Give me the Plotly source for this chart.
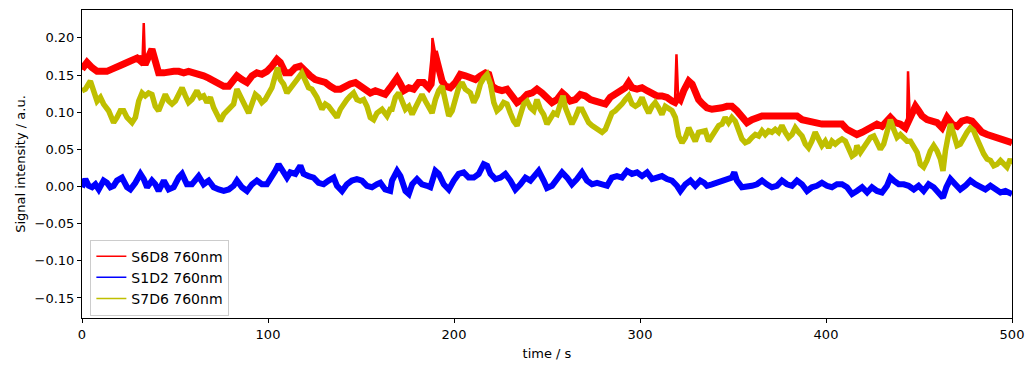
import plotly.graph_objects as go

# ---- data ----
t_s6d8 = [0, 2.7, 5.4, 8.1, 10.8, 13.4, 16.1, 18.8, 21.5, 24.2, 26.9, 29.6, 31.4, 32.6, 33.9, 35.8, 37.6, 39.4, 41.2,
          44.0, 46.6, 49.3, 52.0, 54.7, 57.3, 60.0, 62.7, 65.4, 68.1, 70.8, 73.5, 76.2, 78.9, 81.5, 83.3, 86.0, 88.7, 91.4, 94.0,
          96.7, 99.4, 102.1, 104.8, 106.6, 109.3, 112.0, 114.7, 117.4, 120.0, 122.7, 125.4, 128.1, 130.8, 133.5, 136.2, 138.9,
          141.5, 144.2, 147.0, 149.6, 152.3, 155.0, 157.7, 160.4, 163.0, 165.7, 169.4, 171.2, 173.0, 175.7, 178.3, 181.0,
          183.7, 186.4, 187.7, 189.5, 190.4, 191.8, 193.6, 195.4, 198.0, 200.8, 203.4, 206.1, 208.8, 211.5, 214.2,
          216.9, 218.7, 220.5, 223.1, 225.8, 228.5, 231.2, 233.9, 236.6, 239.3, 242.0, 244.6, 247.3, 250.0, 252.7, 255.4,
          258.1, 259.9, 262.5, 265.2, 267.9, 270.6, 273.3, 276.0, 278.7, 281.4, 284.0, 286.7, 289.4, 292.1, 293.9, 295.7,
          298.4, 301.1, 303.8, 306.5, 309.1, 311.8, 314.5, 317.2, 318.8, 320.5, 321.7, 323.5, 326.2, 328.0, 329.7,
          331.5, 333.3, 336.0, 338.7, 341.4, 344.1, 346.7, 349.4, 352.1, 354.8, 357.5, 360.2, 362.9, 365.6, 368.2, 370.9,
          373.6, 376.3, 379.0, 381.7, 384.4, 387.1, 389.8, 392.4, 395.1, 397.8, 400.5, 403.2, 405.9, 408.6, 411.3, 414.0,
          416.6, 419.4, 422.1, 424.7, 427.4, 430.1, 432.8, 434.6, 437.3, 440.0, 442.7, 443.6, 445.0, 446.3, 448.1,
          449.8, 451.6, 454.3, 457.0, 459.7, 462.4, 465.1, 467.8, 470.5, 473.1, 475.8, 478.5, 481.2, 483.9, 486.6, 489.3,
          492.0, 494.6, 497.3, 500.0]
v_s6d8 = [0.158, 0.167, 0.160, 0.155, 0.155, 0.155, 0.158, 0.160, 0.164, 0.167, 0.169, 0.173, 0.169, 0.175, 0.164, 0.178, 0.185, 0.169, 0.153,
          0.153, 0.155, 0.155, 0.155, 0.153, 0.155, 0.153, 0.153, 0.149, 0.146, 0.142, 0.138, 0.135, 0.135, 0.144, 0.149, 0.144, 0.140, 0.149, 0.153,
          0.151, 0.155, 0.162, 0.171, 0.167, 0.153, 0.153, 0.160, 0.162, 0.155, 0.149, 0.144, 0.142, 0.140, 0.135, 0.131, 0.131,
          0.135, 0.138, 0.140, 0.135, 0.131, 0.126, 0.129, 0.126, 0.124, 0.133, 0.146, 0.138, 0.129, 0.133, 0.131, 0.140,
          0.140, 0.133, 0.138, 0.182, 0.172, 0.155, 0.142, 0.135, 0.133, 0.140, 0.151, 0.149, 0.146, 0.144, 0.149,
          0.153, 0.151, 0.135, 0.131, 0.129, 0.131, 0.122, 0.113, 0.117, 0.124, 0.126, 0.131, 0.126, 0.118, 0.113, 0.117,
          0.126, 0.122, 0.115, 0.117, 0.124, 0.122, 0.117, 0.115, 0.113, 0.111, 0.120, 0.124, 0.129, 0.133, 0.140, 0.133,
          0.131, 0.133, 0.129, 0.124, 0.122, 0.122, 0.120, 0.115, 0.113, 0.120, 0.117, 0.129, 0.142, 0.138, 0.126,
          0.117, 0.112, 0.106, 0.104, 0.104, 0.106, 0.108, 0.108, 0.102, 0.093, 0.086, 0.090, 0.093, 0.095, 0.095, 0.095,
          0.097, 0.097, 0.097, 0.097, 0.095, 0.090, 0.088, 0.086, 0.084, 0.084, 0.084, 0.084, 0.086, 0.084, 0.077, 0.073,
          0.070, 0.073, 0.077, 0.081, 0.084, 0.081, 0.088, 0.093, 0.086, 0.084, 0.079, 0.084, 0.093, 0.099, 0.108,
          0.102, 0.095, 0.090, 0.088, 0.086, 0.079, 0.093, 0.084, 0.081, 0.088, 0.090, 0.088, 0.079, 0.073, 0.070, 0.068,
          0.066, 0.064, 0.061, 0.059]
# narrow artefact spikes in S6D8
spike_t_s6d8 = [33.2, 188.4, 319.6, 444.1]
spike_v_s6d8 = [0.220, 0.200, 0.178, 0.155]

t_s1d2 = [0, 1.8, 3.6, 5.4, 7.2, 9.0, 11.6, 13.4, 15.2, 17.0, 18.8, 21.5, 24.2, 26.0, 28.7, 31.4, 33.2, 35.0, 37.6, 39.4,
          41.2, 44.0, 46.6, 49.3, 52.0, 53.8, 56.4, 59.1, 62.7, 65.4, 68.1, 70.8, 73.5, 76.2, 78.9, 81.5, 83.3, 86.0, 88.7,
          91.4, 94.0, 96.7, 99.4, 102.1, 103.9, 105.7, 107.5, 110.2, 112.0, 114.7, 117.4, 119.1, 121.8, 124.5, 127.2, 129.9,
          132.6, 135.3, 137.1, 139.8, 142.4, 145.1, 147.8, 150.5, 153.2, 155.9, 158.6, 160.4, 163.0, 165.7, 166.7, 169.4,
          171.2, 173.9, 175.7, 177.5, 180.1, 182.8, 185.5, 187.3, 190.0, 191.8, 194.5, 197.2, 199.9, 202.5, 205.2, 207.9,
          210.6, 213.3, 216.0, 217.8, 219.6, 222.3, 225.0, 227.6, 230.3, 233.0, 235.7, 238.4, 241.1, 243.8, 245.5, 248.2,
          250.0, 252.7, 255.4, 258.1, 260.8, 263.4, 266.1, 268.8, 271.5, 274.2, 276.9, 279.6, 282.3, 284.9, 287.6, 290.3,
          293.0, 295.7, 298.4, 301.1, 303.8, 306.5, 309.1, 311.8, 314.5, 317.2, 319.9, 321.7, 324.4, 327.1, 329.7, 332.4,
          334.5, 336.0, 338.7, 341.4, 344.1, 346.7, 349.4, 350.7, 352.1, 354.8, 357.5, 360.2, 362.9, 365.6, 368.2, 370.9,
          373.6, 376.3, 379.0, 381.7, 384.4, 387.1, 389.8, 392.4, 395.1, 397.8, 400.5, 403.2, 405.9, 408.6, 411.3, 414.0,
          416.6, 419.4, 422.1, 424.7, 427.4, 430.1, 432.8, 434.6, 436.4, 439.1, 441.8, 444.4, 447.2, 449.8, 452.5, 455.2,
          457.9, 460.6, 462.9, 464.7, 466.9, 469.5, 472.2, 474.9, 477.6, 480.3, 483.0, 485.7, 488.4, 491.1, 493.8, 496.5,
          500.0]
v_s1d2 = [-0.001, 0.010, 0.001, -0.001, 0.003, -0.004, 0.008, 0.005, -0.001, 0.001, 0.008, 0.012, -0.001, -0.004, 0.005, 0.017, 0.010, -0.001, 0.008, 0.003,
          -0.006, 0.008, -0.004, -0.001, 0.012, 0.017, 0.003, 0.003, 0.014, 0.003, 0.008, -0.001, -0.004, -0.006, -0.004, 0.001, 0.008, -0.001, -0.006,
          0.003, 0.008, 0.003, 0.003, 0.012, 0.021, 0.030, 0.021, 0.012, 0.019, 0.017, 0.028, 0.017, 0.014, 0.012, 0.005, 0.003,
          0.008, 0.012, 0.001, -0.006, 0.003, 0.008, 0.010, 0.008, 0.001, -0.001, 0.003, 0.005, -0.004, -0.006, 0.008, 0.021,
          0.014, -0.006, -0.010, 0.003, 0.010, 0.003, 0.001, -0.001, 0.021, 0.017, 0.003, -0.004, 0.008, 0.017, 0.019, 0.012,
          0.012, 0.017, 0.030, 0.028, 0.017, 0.010, 0.012, 0.017, 0.008, -0.004, 0.003, 0.012, 0.008, 0.017, 0.021, 0.008,
          -0.002, 0.001, 0.010, 0.019, 0.012, 0.003, 0.010, 0.019, 0.008, 0.003, 0.005, 0.003, 0.001, 0.012, 0.014, 0.012,
          0.021, 0.017, 0.019, 0.014, 0.019, 0.010, 0.012, 0.014, 0.010, 0.008, 0.001, -0.006, 0.003, 0.008, 0.001, 0.008,
          0.005, 0.001, 0.003, 0.005, 0.008, 0.008, 0.012, 0.019, 0.008, -0.001, -0.001, 0.001, 0.003, 0.008, 0.003, -0.001,
          0.001, 0.008, 0.003, 0.001, 0.008, 0.003, -0.006, -0.001, 0.001, 0.005, 0.001, -0.001, 0.003, 0.003, -0.001, -0.010,
          -0.006, -0.001, -0.008, -0.001, -0.006, -0.008, 0.001, 0.012, 0.008, 0.003, 0.003, 0.001, -0.004, 0.001, -0.006, 0.003,
          -0.001, -0.008, -0.015, -0.001, 0.010, 0.003, -0.004, 0.001, 0.008, 0.003, -0.001, -0.004, 0.001, -0.004, -0.008, -0.006,
          -0.010]

t_s7d6 = [0, 1.8, 4.5, 6.3, 8.1, 9.9, 11.6, 14.3, 17.0, 18.8, 20.6, 22.4, 24.2, 26.9, 28.7, 30.5, 32.3, 34.0, 35.8, 37.6,
          39.4, 41.2, 43.0, 44.8, 46.6, 48.4, 50.2, 52.0, 53.8, 55.6, 57.3, 59.1, 61.8, 63.6, 65.4, 67.2, 69.0, 70.8, 72.6,
          74.4, 76.2, 78.9, 81.5, 83.3, 85.1, 87.8, 89.6, 91.4, 93.2, 95.0, 96.7, 98.5, 100.3, 102.1, 103.9, 105.2, 106.6,
          108.4, 110.2, 112.0, 113.8, 115.6, 118.2, 120.0, 121.8, 123.6, 126.3, 129.0, 130.8, 132.6, 135.3, 137.1, 138.9,
          140.6, 142.4, 144.2, 146.0, 147.8, 149.6, 151.4, 153.2, 155.0, 156.8, 158.6, 161.3, 164.0, 165.7, 166.7, 168.5,
          170.3, 172.1, 173.9, 175.7, 177.5, 179.2, 181.0, 182.8, 184.6, 186.4, 188.2, 190.0, 191.8, 193.6, 195.4, 197.2,
          199.0, 200.8, 202.5, 204.3, 206.1, 208.8, 210.6, 212.4, 214.2, 216.0, 217.8, 219.6, 221.4, 223.1, 224.9, 226.7,
          228.5, 230.3, 232.1, 233.9, 235.7, 237.5, 239.3, 241.1, 242.9, 244.6, 246.4, 248.2, 250.0, 251.8, 253.6, 255.4,
          257.2, 258.6, 259.9, 261.6, 263.4, 265.2, 267.0, 268.8, 270.6, 272.4, 274.2, 276.0, 277.8, 279.6, 281.4, 283.2,
          284.9, 286.7, 288.5, 290.3, 292.1, 293.9, 295.7, 297.5, 299.3, 301.1, 302.9, 304.7, 306.5, 308.2, 310.0, 311.8,
          313.6, 315.4, 317.2, 319.0, 320.8, 322.6, 324.4, 326.2, 328.0, 329.7, 331.5, 333.3, 335.1, 336.9, 338.7, 340.5,
          342.3, 344.1, 345.8, 347.6, 349.4, 351.2, 353.0, 354.8, 356.6, 358.4, 360.2, 362.0, 363.8, 365.6, 367.3, 369.1,
          370.9, 372.7, 374.5, 376.3, 378.1, 379.9, 381.7, 383.5, 385.3, 387.1, 388.9, 390.6, 392.4, 394.2, 396.0, 397.8,
          399.6, 401.4, 403.2, 405.0, 406.8, 408.6, 410.4, 412.2, 414.0, 415.7, 416.6, 418.5, 420.3, 422.1, 423.9, 425.7,
          427.5, 429.2, 431.0, 432.8, 434.6, 436.4, 438.2, 440.0, 441.8, 443.6, 445.4, 447.2, 449.0, 450.7, 452.5, 454.3,
          456.1, 457.9, 459.7, 461.5, 462.9, 464.2, 466.0, 466.9, 468.7, 470.5, 472.2, 474.0, 475.8, 477.6, 479.4, 481.2,
          483.0, 484.8, 486.6, 488.4, 490.2, 492.0, 493.8, 495.5, 497.3, 499.1, 500.0]
v_s7d6 = [0.129, 0.131, 0.142, 0.129, 0.115, 0.120, 0.111, 0.102, 0.086, 0.093, 0.102, 0.102, 0.093, 0.086, 0.093, 0.115, 0.126, 0.122, 0.126, 0.124,
          0.108, 0.102, 0.113, 0.124, 0.115, 0.111, 0.115, 0.126, 0.133, 0.122, 0.113, 0.117, 0.129, 0.120, 0.122, 0.113, 0.120, 0.106, 0.097,
          0.088, 0.097, 0.104, 0.111, 0.131, 0.120, 0.108, 0.099, 0.113, 0.124, 0.120, 0.113, 0.117, 0.124, 0.133, 0.149, 0.160, 0.144,
          0.138, 0.126, 0.133, 0.140, 0.144, 0.153, 0.142, 0.133, 0.131, 0.120, 0.104, 0.111, 0.108, 0.099, 0.093, 0.104,
          0.111, 0.117, 0.122, 0.126, 0.117, 0.115, 0.117, 0.108, 0.093, 0.090, 0.099, 0.104, 0.095, 0.104, 0.104, 0.120,
          0.126, 0.115, 0.104, 0.108, 0.097, 0.106, 0.117, 0.124, 0.115, 0.108, 0.099, 0.117, 0.129, 0.135, 0.111, 0.095,
          0.102, 0.120, 0.133, 0.140, 0.131, 0.126, 0.113, 0.122, 0.138, 0.146, 0.151, 0.138, 0.113, 0.102, 0.106, 0.113,
          0.111, 0.099, 0.088, 0.082, 0.095, 0.111, 0.115, 0.106, 0.102, 0.117, 0.104, 0.097, 0.084, 0.093, 0.099, 0.097,
          0.111, 0.122, 0.106, 0.093, 0.084, 0.093, 0.104, 0.104, 0.095, 0.086, 0.082, 0.079, 0.075, 0.073, 0.077, 0.088,
          0.099, 0.102, 0.106, 0.111, 0.117, 0.122, 0.111, 0.108, 0.111, 0.120, 0.108, 0.099, 0.108, 0.113, 0.106, 0.097,
          0.108, 0.106, 0.102, 0.093, 0.068, 0.059, 0.066, 0.079, 0.070, 0.061, 0.073, 0.075, 0.075, 0.061, 0.068, 0.075,
          0.082, 0.084, 0.093, 0.086, 0.093, 0.088, 0.075, 0.064, 0.059, 0.061, 0.066, 0.070, 0.068, 0.075, 0.070, 0.075,
          0.073, 0.077, 0.073, 0.082, 0.073, 0.066, 0.070, 0.079, 0.073, 0.068, 0.057, 0.052, 0.061, 0.073, 0.064, 0.055,
          0.061, 0.052, 0.061, 0.057, 0.061, 0.064, 0.061, 0.050, 0.041, 0.044, 0.055, 0.046, 0.052, 0.059, 0.066, 0.068,
          0.059, 0.050, 0.057, 0.073, 0.090, 0.077, 0.066, 0.070, 0.064, 0.061, 0.061, 0.055, 0.046, 0.030, 0.026, 0.035,
          0.048, 0.055, 0.048, 0.037, 0.021, 0.048, 0.075, 0.084, 0.070, 0.055, 0.057, 0.066, 0.073, 0.079, 0.075, 0.064,
          0.052, 0.044, 0.037, 0.035, 0.028, 0.030, 0.035, 0.030, 0.026, 0.037, 0.030]

series_names = ["S6D8 760nm", "S1D2 760nm", "S7D6 760nm"]
series_colors = ["#ff0000", "#0000ff", "#bfbf00"]

y_tick_vals = [-0.15, -0.10, -0.05, 0.00, 0.05, 0.10, 0.15, 0.20]
y_tick_text = ["\u22120.15", "\u22120.10", "\u22120.05", "0.00", "0.05", "0.10", "0.15", "0.20"]
x_tick_vals = [0, 100, 200, 300, 400, 500]

# full S6D8 trace including the narrow spikes (thin line)
full_red = sorted(zip(t_s6d8 + spike_t_s6d8, v_s6d8 + spike_v_s6d8))
t_full_red = [p[0] for p in full_red]
v_full_red = [p[1] for p in full_red]

fig = go.Figure()
# S6D8: thin full line (spikes) + thick noise band
fig.add_trace(go.Scatter(x=t_full_red, y=v_full_red, mode="lines", showlegend=False,
                         line=dict(color=series_colors[0], width=2.5)))
fig.add_trace(go.Scatter(x=t_s6d8, y=v_s6d8, mode="lines", showlegend=False,
                         line=dict(color=series_colors[0], width=7)))
fig.add_trace(go.Scatter(x=t_s1d2, y=v_s1d2, mode="lines", showlegend=False,
                         line=dict(color=series_colors[1], width=6)))
fig.add_trace(go.Scatter(x=t_s7d6, y=v_s7d6, mode="lines", showlegend=False,
                         line=dict(color=series_colors[2], width=5.5)))
for name, col in zip(series_names, series_colors):
    fig.add_trace(go.Scatter(x=[None], y=[None], mode="lines", name=name,
                             line=dict(color=col, width=1.5)))

axis_common = dict(showline=True, linecolor="black", linewidth=1, mirror=True,
                   ticks="outside", ticklen=4, tickcolor="black", showgrid=False, zeroline=False,
                   tickfont=dict(family="DejaVu Sans", size=13, color="black"))
# the page body adds an 8px offset, so the figure is sized 8px smaller and margins shifted
fig.update_layout(
    width=1027, height=363,
    margin=dict(l=74, r=23, t=2, b=53),
    paper_bgcolor="white", plot_bgcolor="white",
    font=dict(family="DejaVu Sans", size=13, color="black"),
    xaxis=dict(range=[0, 500], tickvals=x_tick_vals, **axis_common,
               title=dict(text="time / s", font=dict(size=13), standoff=8)),
    yaxis=dict(range=[-0.177, 0.2376], tickvals=y_tick_vals, ticktext=y_tick_text, **axis_common,
               title=dict(text="Signal intensity / a.u.", font=dict(size=13), standoff=6)),
    legend=dict(x=0.009, y=0.008, xanchor="left", yanchor="bottom",
                bgcolor="rgba(255,255,255,0.8)", bordercolor="#cccccc", borderwidth=1,
                font=dict(size=14), tracegroupgap=2),
)
fig.write_html("out.html")
